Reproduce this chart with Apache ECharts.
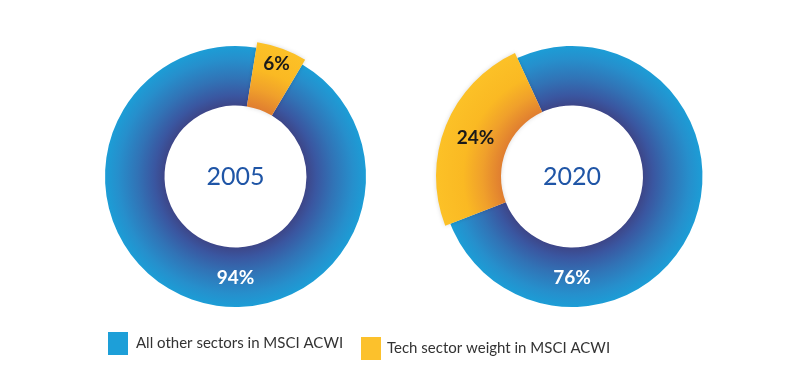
<!DOCTYPE html>
<html><head><meta charset="utf-8">
<script src="https://cdn.jsdelivr.net/npm/echarts@6/dist/echarts.min.js"></script>
<style>html,body{margin:0;padding:0;background:#fff}#c{width:800px;height:379px}</style>
</head><body><div id="c"></div>
<script>
const years = ['2005', '2020'];
const categories = ['Tech sector weight in MSCI ACWI', 'All other sectors in MSCI ACWI'];
const techWeight = [6, 24];
const otherWeight = [94, 76];
// angle (deg clockwise from 12 o'clock) where the tech slice is centred
const techMidAngle = [20, 292];

const centers = [[235.5, 176.5], [572, 176.5]];
const rIn = 71, rBlue = 130.5, rYellow = 136;
const FONT = 'Lato, "Noto Sans", sans-serif';

function blueGrad(c) {
  return new echarts.graphic.RadialGradient(c[0], c[1], rBlue, [
    {offset: 0, color: '#3d4688'},
    {offset: rIn / rBlue, color: '#3d4688'},
    {offset: 0.62, color: '#3a56a0'},
    {offset: 0.75, color: '#3173b6'},
    {offset: 0.9, color: '#268fcc'},
    {offset: 1, color: '#1c9dd6'}
  ], true);
}
function yellowGrad(c) {
  return new echarts.graphic.RadialGradient(c[0], c[1], rYellow, [
    {offset: 0, color: '#e07e30'},
    {offset: rIn / rYellow, color: '#e07e30'},
    {offset: 0.66, color: '#f0a02b'},
    {offset: 0.8, color: '#fab923'},
    {offset: 1, color: '#fcc127'}
  ], true);
}
const series = [];
years.forEach((yr, i) => {
  const c = centers[i];
  const total = techWeight[i] + otherWeight[i];
  const startCw = techMidAngle[i] - techWeight[i] / total * 360 / 2;
  const startAngle = 90 - startCw;
  // blue ring
  series.push({
    type: 'pie', silent: true, center: c, radius: [rIn, rBlue], startAngle: startAngle,
    clockwise: true, avoidLabelOverlap: false,
    data: [
      {name: categories[0], value: techWeight[i], itemStyle: {color: 'rgba(0,0,0,0)'}, label: {show: false}},
      {name: categories[1], value: otherWeight[i], itemStyle: {color: blueGrad(c)},
       label: {show: true, position: 'inside', formatter: '{c}%', color: '#fff', fontSize: 19, fontWeight: 'bold', fontFamily: FONT}}
    ],
    labelLayout: function (p) { return p.dataIndex === 1 ? {x: c[0], y: c[1] + 101} : {}; },
    labelLine: {show: false}
  });
  // yellow slice
  const labR = techWeight[i] < 10 ? 120 : 104;
  const a = techMidAngle[i] * Math.PI / 180;
  series.push({
    type: 'pie', silent: true, center: c, radius: [rIn, rYellow], startAngle: startAngle,
    clockwise: true, avoidLabelOverlap: false,
    data: [
      {name: categories[0], value: techWeight[i], itemStyle: {color: yellowGrad(c), shadowColor: 'rgba(0,0,0,0.15)', shadowBlur: 4},
       label: {show: true, position: 'inside', formatter: '{c}%', color: '#1a1a1a', fontSize: 19, fontWeight: 'bold', fontFamily: FONT}},
      {name: categories[1], value: otherWeight[i], itemStyle: {color: 'rgba(0,0,0,0)'}, label: {show: false}}
    ],
    labelLayout: function (p) { return p.dataIndex === 0 ? {x: c[0] + labR * Math.sin(a), y: c[1] - labR * Math.cos(a)} : {}; },
    labelLine: {show: false}
  });
});

const chart = echarts.init(document.getElementById('c'), null, {renderer: 'canvas'});
chart.setOption({
  animation: false,
  backgroundColor: '#ffffff',
  title: years.map((y, i) => ({
    text: y, left: centers[i][0], top: centers[i][1], textAlign: 'center', textVerticalAlign: 'middle', padding: 0,
    textStyle: {color: '#1f55a6', fontSize: 25, fontWeight: 'normal', fontFamily: FONT}
  })),
  legend: [
    {left: 108, top: 332, padding: 0, itemWidth: 20, itemHeight: 23, selectedMode: false, icon: 'rect',
     data: [{name: categories[1], itemStyle: {color: '#1d9fd8'}}],
     textStyle: {fontSize: 15, color: '#333', fontFamily: FONT, padding: [2, 0, 0, 3]}},
    {left: 361, top: 337, padding: 0, itemWidth: 20, itemHeight: 23, selectedMode: false, icon: 'rect',
     data: [{name: categories[0], itemStyle: {color: '#fcc12c'}}],
     textStyle: {fontSize: 15, color: '#333', fontFamily: FONT, padding: [2, 0, 0, 1]}}
  ],
  series: series
});
</script></body></html>
